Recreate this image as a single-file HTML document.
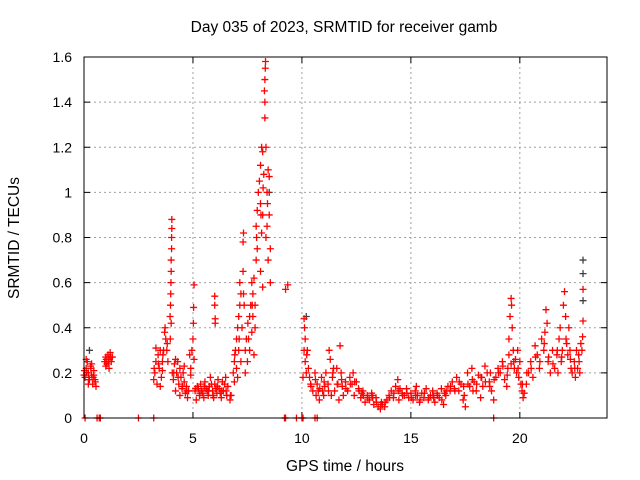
<!DOCTYPE html>
<html><head><meta charset="utf-8"><style>
body{margin:0;background:#fff;}
svg{display:block;font-family:"Liberation Sans",sans-serif;}
</style></head><body>
<svg id="chart" width="640" height="480" viewBox="0 0 640 480" xmlns="http://www.w3.org/2000/svg">
<rect width="640" height="480" fill="#fff"/>
<text x="344" y="32" font-size="15.5" text-anchor="middle" fill="#000">Day 035 of 2023, SRMTID for receiver gamb</text>
<text x="345" y="471" font-size="15.5" text-anchor="middle" fill="#000">GPS time / hours</text>
<text x="19" y="238" font-size="15.5" text-anchor="middle" fill="#000" transform="rotate(-90 19 238)">SRMTID / TECUs</text>
<g id="grid"></g><g id="ticks"></g><g id="marks"></g>
<rect x="84" y="57" width="523" height="361" fill="none" stroke="#000" stroke-width="1"/>
</svg>
<script>
const xTicks=[0,5,10,15,20];
const yTicks=[0,0.2,0.4,0.6,0.8,1,1.2,1.4,1.6];
const yTickLabels=["0","0.2","0.4","0.6","0.8","1","1.2","1.4","1.6"];
const times=[0,0.05,0.1,0.15,0.2,0.25,0.3,0.35,0.4,0.45,0.5,0.55,0.1,0.2,0.35,0.45,
0.95,1.0,1.05,1.1,1.15,1.2,1.25,1.3,1.0,1.15,
3.2,3.25,3.3,3.35,3.4,3.45,3.5,3.55,3.6,3.65,3.7,3.72,3.75,3.8,3.85,3.3,3.5,3.6,
3.95,3.97,3.98,3.99,4.0,4.0,4.02,4.02,4.03,4.03,3.96,4.0,
4.05,4.1,4.15,4.2,4.25,4.3,4.35,4.4,4.45,4.5,4.55,4.6,4.65,4.7,4.75,4.8,4.2,4.4,4.6,
4.85,4.9,4.95,5.0,5.02,5.03,5.05,4.9,5.05,
5.1,5.15,5.2,5.3,5.35,5.4,5.5,5.55,5.6,5.7,5.75,5.8,5.9,5.95,6.0,6.1,6.15,6.2,6.3,6.35,6.4,6.5,6.55,6.6,6.7,6.75,5.25,5.45,5.65,5.85,6.05,6.25,6.45,
6.0,6.0,6.02,6.02,
6.85,6.9,6.95,7.0,7.05,7.1,7.1,7.15,7.15,7.2,7.2,7.25,7.3,7.32,7.3,7.35,7.4,7.4,7.45,6.9,7.0,7.05,
7.5,7.55,7.6,7.65,7.7,7.75,7.8,7.85,7.9,7.9,7.95,7.95,8.0,7.6,7.7,7.8,7.85,7.75,
8.05,8.1,8.1,8.15,8.2,8.2,8.25,8.3,8.3,8.3,8.32,8.33,8.28,8.35,8.35,8.4,8.4,8.45,8.45,8.5,8.5,8.55,8.55,8.1,8.2,8.15,
9.25,9.35,
10.1,10.12,10.15,10.1,10.15,10.2,10.25,10.3,10.35,10.4,10.05,
10.5,10.6,10.65,10.7,10.8,10.9,10.95,11.0,11.1,11.2,11.25,11.3,11.35,11.4,11.5,11.6,11.7,11.75,11.8,11.85,11.9,12.0,10.75,11.05,11.45,11.65,
12.1,12.2,12.3,12.4,12.5,12.6,12.7,12.8,12.9,13.0,13.1,13.2,13.3,13.4,13.5,13.6,13.7,13.8,13.9,14.0,12.35,12.75,13.25,13.65,
14.1,14.2,14.3,14.4,14.5,14.6,14.7,14.8,14.9,15.0,15.1,15.2,15.3,15.4,15.5,15.6,15.7,15.8,15.9,16.0,16.1,16.2,16.3,16.4,16.5,16.6,16.7,16.8,16.9,17.0,14.45,15.25,16.05,16.55,
17.1,17.2,17.3,17.4,17.5,17.6,17.7,17.8,17.9,18.0,18.1,18.2,18.3,18.4,18.5,18.6,18.7,18.8,18.9,19.0,17.45,17.85,18.25,18.65,
19.1,19.2,19.3,19.4,19.45,19.5,19.55,19.6,19.62,19.65,19.7,19.75,19.8,19.85,19.9,19.95,20.0,20.05,20.1,20.15,20.2,19.5,19.6,
20.3,20.4,20.5,20.6,20.7,20.8,20.9,21.0,21.1,21.15,21.2,21.25,21.3,21.4,21.5,21.6,21.7,21.75,21.8,21.85,21.9,21.95,22.0,22.05,22.1,22.15,22.2,22.25,22.3,22.35,22.4,22.5,22.55,22.6,22.65,22.7,22.75,22.8,22.85,22.9,22.9,22.88,
0.05,0.6,0.7,0.75,2.5,3.2,9.2,9.25,9.75,10.0,10.05,10.6,10.7,18.8,
0.02,0.12,0.22,0.32,0.42,0.52,1.02,1.12,1.22,3.22,3.42,3.62,3.82,4.12,4.32,4.52,4.72,5.12,5.32,5.52,5.72,5.92,6.12,6.32,6.52,6.72,6.92,7.12,7.32,7.52,7.72,7.92,8.12,8.22,8.42,10.22,10.42,10.62,10.82,11.02,11.22,11.42,11.62,11.82,12.02,12.22,12.42,12.62,12.82,13.02,13.22,13.42,13.62,13.82,14.02,14.22,14.42,14.62,14.82,15.02,15.22,15.42,15.62,15.82,16.02,16.22,16.42,16.62,16.82,17.02,17.22,17.42,17.62,17.82,18.02,18.22,18.42,18.62,18.82,19.02,19.22,19.42,19.72,19.92,20.12,20.32,20.52,20.72,20.92,21.12,21.32,21.52,21.72,21.92,22.12,22.32,22.52,22.72];
const values=[0.19,0.18,0.22,0.25,0.2,0.17,0.23,0.19,0.15,0.21,0.17,0.14,0.26,0.15,0.24,0.19,
0.25,0.27,0.24,0.28,0.26,0.29,0.25,0.27,0.23,0.22,
0.17,0.2,0.25,0.15,0.28,0.22,0.3,0.18,0.25,0.3,0.38,0.4,0.35,0.3,0.25,0.31,0.14,0.21,
0.45,0.5,0.55,0.6,0.65,0.7,0.75,0.8,0.84,0.88,0.35,0.42,
0.2,0.17,0.24,0.12,0.2,0.25,0.15,0.22,0.18,0.13,0.2,0.16,0.11,0.14,0.09,0.12,0.26,0.1,0.23,
0.28,0.22,0.3,0.35,0.42,0.49,0.59,0.19,0.26,
0.12,0.08,0.14,0.1,0.15,0.12,0.09,0.16,0.13,0.1,0.14,0.18,0.12,0.09,0.15,0.11,0.17,0.13,0.09,0.16,0.12,0.18,0.1,0.14,0.08,0.1,0.13,0.11,0.12,0.15,0.13,0.11,0.15,
0.54,0.5,0.44,0.42,
0.2,0.25,0.3,0.35,0.4,0.45,0.3,0.5,0.6,0.55,0.25,0.4,0.78,0.82,0.65,0.5,0.3,0.2,0.35,0.16,0.22,0.18,
0.25,0.35,0.45,0.5,0.6,0.55,0.62,0.4,0.7,0.85,0.92,0.75,1.0,0.3,0.38,0.28,0.5,0.45,
1.05,0.95,1.12,1.2,0.9,1.18,1.08,1.33,1.4,1.5,1.55,1.58,1.45,1.2,0.8,1.0,0.85,1.1,0.7,1.07,0.9,0.6,0.75,0.65,0.58,0.82,
0.57,0.59,
0.44,0.4,0.35,0.3,0.25,0.2,0.3,0.22,0.18,0.15,0.18,
0.12,0.2,0.1,0.15,0.08,0.18,0.12,0.1,0.2,0.15,0.3,0.26,0.1,0.18,0.12,0.22,0.08,0.32,0.2,0.14,0.1,0.16,0.12,0.14,0.22,0.15,
0.12,0.18,0.15,0.1,0.16,0.13,0.09,0.12,0.07,0.1,0.08,0.11,0.06,0.09,0.05,0.04,0.06,0.05,0.08,0.1,0.2,0.11,0.09,0.07,
0.12,0.09,0.14,0.17,0.13,0.11,0.1,0.13,0.09,0.11,0.08,0.12,0.1,0.07,0.11,0.09,0.13,0.08,0.1,0.12,0.07,0.11,0.09,0.13,0.06,0.1,0.14,0.12,0.16,0.13,0.08,0.14,0.09,0.11,
0.18,0.12,0.15,0.08,0.05,0.2,0.14,0.22,0.16,0.12,0.19,0.09,0.14,0.23,0.2,0.16,0.12,0.08,0.18,0.22,0.1,0.12,0.18,0.2,
0.2,0.25,0.17,0.14,0.22,0.35,0.45,0.53,0.5,0.4,0.3,0.22,0.26,0.2,0.3,0.18,0.25,0.15,0.12,0.09,0.11,0.28,0.24,
0.15,0.2,0.25,0.18,0.32,0.28,0.22,0.35,0.3,0.38,0.48,0.42,0.25,0.2,0.3,0.22,0.28,0.2,0.35,0.4,0.25,0.3,0.5,0.56,0.45,0.33,0.28,0.4,0.3,0.22,0.2,0.25,0.18,0.3,0.22,0.28,0.2,0.33,0.3,0.57,0.43,0.36,
0,0,0,0,0,0,0,0,0,0,0,0,0,0,
0.21,0.2,0.17,0.22,0.18,0.16,0.26,0.25,0.27,0.22,0.24,0.28,0.33,0.2,0.18,0.14,0.12,0.13,0.11,0.14,0.12,0.1,0.14,0.12,0.12,0.1,0.28,0.35,0.55,0.42,0.5,0.8,0.9,1.02,0.95,0.28,0.14,0.17,0.13,0.16,0.12,0.2,0.15,0.17,0.13,0.15,0.16,0.12,0.1,0.09,0.1,0.07,0.06,0.07,0.09,0.11,0.12,0.1,0.11,0.09,0.1,0.08,0.11,0.09,0.1,0.1,0.08,0.12,0.14,0.12,0.16,0.14,0.15,0.17,0.15,0.18,0.16,0.14,0.17,0.2,0.23,0.19,0.25,0.22,0.15,0.2,0.22,0.27,0.25,0.33,0.27,0.24,0.3,0.27,0.35,0.26,0.22,0.25];
const blackTimes=[0.25,8.5,10.2,22.9,22.9,22.9];
const blackValues=[0.3,1.0,0.45,0.7,0.64,0.52];

const X0=84,X1=607,Y0=418,Y1=57,XMAX=24,YMAX=1.6;
const xs=t=>X0+(X1-X0)*t/XMAX;
const ys=v=>Y0-(Y0-Y1)*v/YMAX;
const NS="http://www.w3.org/2000/svg";
function mk(tag,attrs,parent){const e=document.createElementNS(NS,tag);for(const k in attrs)e.setAttribute(k,attrs[k]);parent.appendChild(e);return e;}
const grid=document.getElementById('grid'),ticks=document.getElementById('ticks'),marks=document.getElementById('marks');
xTicks.forEach((t,i)=>{const x=xs(t);
 if(t>0){const g=mk('line',{x1:x,x2:x,y1:Y1,y2:Y0,stroke:'#a0a0a0','stroke-dasharray':'2,3'},grid);
 
 }
 mk('line',{x1:x,x2:x,y1:Y0,y2:Y0-6,stroke:'#000'},ticks);
 mk('line',{x1:x,x2:x,y1:Y1,y2:Y1+6,stroke:'#000'},ticks);
 const l=mk('text',{x:x,y:Y0+25,'font-size':14,'text-anchor':'middle'},ticks);l.textContent=String(t);
 
 
});
yTicks.forEach((v,i)=>{const y=ys(v);
 if(v>0&&v<YMAX){const g=mk('line',{x1:X0,x2:X1,y1:y,y2:y,stroke:'#a0a0a0','stroke-dasharray':'2,3'},grid);
 
 }
 mk('line',{x1:X0,x2:X0+6,y1:y,y2:y,stroke:'#000'},ticks);
 mk('line',{x1:X1,x2:X1-6,y1:y,y2:y,stroke:'#000'},ticks);
 const l=mk('text',{x:X0-12,y:y+5,'font-size':14,'text-anchor':'end'},ticks);l.textContent=yTickLabels[i];
 
 
});
function plus(t,v,col,name){const x=xs(t),y=ys(v);
 const p=mk('path',{d:`M${x-3.5},${y}H${x+3.5}M${x},${y-3.5}V${y+3.5}`,stroke:col,'stroke-width':1.3,fill:'none'},marks);
 
 
}
blackTimes.forEach((t,i)=>plus(t,blackValues[i],'#404040','black-point'));
times.forEach((t,i)=>plus(t,values[i],'#ff0000','data-point'));
</script>
</body></html>
